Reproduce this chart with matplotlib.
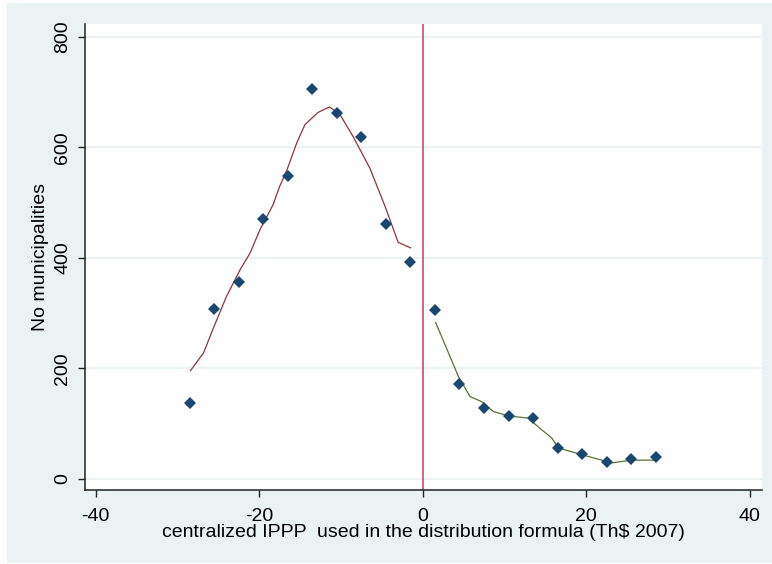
import matplotlib
matplotlib.use("Agg")
import matplotlib.pyplot as plt
from matplotlib.patches import Rectangle

# ---- data ----
bin_x = [-28.5, -25.5, -22.5, -19.5, -16.5, -13.5, -10.5, -7.5, -4.5, -1.5,
         1.5, 4.5, 7.5, 10.5, 13.5, 16.5, 19.5, 22.5, 25.5, 28.5]
counts = [137, 308, 357, 471, 548, 705, 662, 618, 462, 392,
          305, 172, 128, 113, 111, 56, 45, 30, 36, 39]

left_fit_x = [-28.4, -26.8, -25.6, -24.0, -22.35, -21.1, -19.9, -18.3, -17.5, -16.6,
              -15.4, -14.4, -12.8, -11.4, -10.1, -8.5, -6.45, -4.6, -3.0, -1.47]
left_fit_y = [196, 228, 273, 330, 378, 409, 451, 496, 529, 559,
              608, 641, 663, 673, 659, 619, 562, 493, 428, 418]

right_fit_x = [1.59, 4.35, 5.79, 7.2, 8.64, 10.5, 12.9, 14.55, 15.8, 16.6,
               19.45, 23.1, 25.6, 28.3]
right_fit_y = [283, 186, 149, 140, 122, 114, 110, 89, 74, 56,
               44, 29, 34, 34]

xticks = [-40, -20, 0, 20, 40]
yticks = [0, 200, 400, 600, 800]
xlabel = "centralized IPPP  used in the distribution formula (Th$ 2007)"
ylabel = "No municipalities"

plt.rcParams['font.family'] = ['Liberation Sans', 'DejaVu Sans']

BG = "#EAF2F3"
W, H = 772, 564
fig = plt.figure(figsize=(W / 100, H / 100), dpi=100, facecolor="white")
bg = Rectangle((7 / W, 1 - 563 / H), 1 - 7 / W, (563 - 3) / H,
               transform=fig.transFigure, facecolor=BG, edgecolor="none")
bg.set_zorder(-10)
fig.add_artist(bg)

ax = fig.add_axes([85 / W, 1 - 490 / H, (762 - 85) / W, (490 - 24) / H])
ax.set_zorder(1)
ax.set_facecolor("white")
ax.set_xlim(-41.3, 41.5)
ax.set_ylim(-20, 823)

for yv in yticks:
    ax.axhline(yv, color=BG, lw=1.5, zorder=1)

ax.axvline(0, color="#D3486A", lw=1.2, zorder=2)
ax.plot(left_fit_x, left_fit_y, color="#90353B", lw=0.9, zorder=3)
ax.plot(right_fit_x, right_fit_y, color="#55752F", lw=0.9, zorder=3)
ax.plot(bin_x, counts, linestyle="none", marker="D", markersize=6.5,
        color="#1A476F", markeredgewidth=0, zorder=4)

for s in ["top", "right"]:
    ax.spines[s].set_visible(False)
for s in ["left", "bottom"]:
    ax.spines[s].set_linewidth(1.1)
    ax.spines[s].set_color("#222222")

ax.set_xticks(xticks)
ax.set_yticks(yticks)
ax.set_xticklabels([str(v) for v in xticks], fontsize=14)
ax.set_yticklabels([str(v) for v in yticks], fontsize=14, rotation=90, va="center")
ax.tick_params(axis="both", direction="out", length=5, width=1.0, color="#222222")
ax.tick_params(axis="x", pad=8)
ax.tick_params(axis="y", pad=5)

ax.set_xlabel(xlabel, fontsize=14, labelpad=-1)
ax.set_ylabel(ylabel, fontsize=14, labelpad=4)

fig.savefig("out.png", dpi=100, facecolor=fig.get_facecolor())
